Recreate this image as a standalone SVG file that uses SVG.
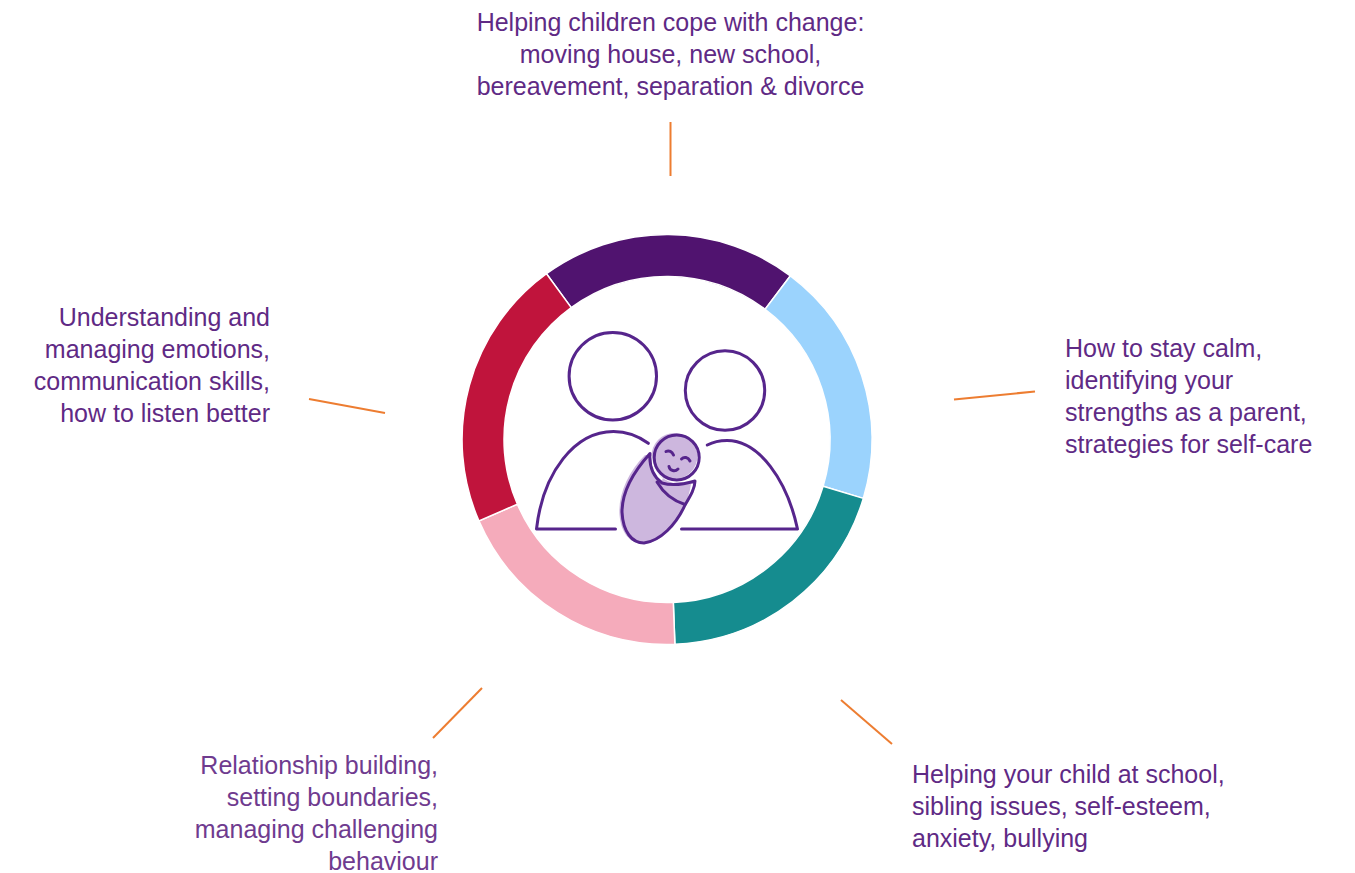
<svg xmlns="http://www.w3.org/2000/svg" width="1355" height="873" viewBox="0 0 1355 873">
<style>
.t{font-family:"Liberation Sans",Arial,sans-serif;font-size:25px;fill:#5F2A85}
.e{text-anchor:end}.m{text-anchor:middle}
.c{fill:none;stroke:#ED7D31;stroke-width:2}
.o{fill:none;stroke:#56258C;stroke-width:3;stroke-linecap:round;stroke-linejoin:round}
.f{fill:#CDB7DE}
</style>
<rect width="1355" height="873" fill="#fff"/>
<g id="ring" stroke="#fff" stroke-width="1.5">
<path id="seg-top" fill="#50136F" d="M546.5 273.7A205 205 0 0 1 790.4 275.8L765.1 309.3A163 163 0 0 0 571.2 307.6Z"/>
<path id="seg-right" fill="#9BD3FD" d="M790.4 275.8A205 205 0 0 1 863.3 498.4L823.1 486.3A163 163 0 0 0 765.1 309.3Z"/>
<path id="seg-bottom-right" fill="#158C8F" d="M863.3 498.4A205 205 0 0 1 674.9 644.3L673.3 602.4A163 163 0 0 0 823.1 486.3Z"/>
<path id="seg-bottom-left" fill="#F5ABBB" d="M674.9 644.3A205 205 0 0 1 478.9 520.9L517.4 504.2A163 163 0 0 0 673.3 602.4Z"/>
<path id="seg-left" fill="#C0143C" d="M478.9 520.9A205 205 0 0 1 546.5 273.7L571.2 307.6A163 163 0 0 0 517.4 504.2Z"/>
</g>
<g id="family">
<circle class="o" cx="612.8" cy="376.2" r="43.7"/>
<circle class="o" cx="725" cy="390.5" r="39.7"/>
<path class="o" d="M648.3 443.3C637 435 625 431.5 613.5 431.5C575 431.5 543 472 536.5 529H615.5"/>
<path class="o" d="M707.3 445C714 441.5 720 440.5 727 440.5C759 440.5 787 480 797.5 529H681.5"/>
<g id="baby">
<path class="f" d="M645 455C628 472 618 495 619.500 515C621 533 630 543 642 544C660 544 678 525 686 506C692 494 694 486 694 481L673 483C662 480 652 470 650 455Z"/>
<circle class="f" cx="674.500" cy="456" r="23"/>
<path d="M650.500 456C651 466 655 474 662 480" fill="none" stroke="#fff" stroke-width="3"/>
<path d="M692 484C690 500 680 522 665 533" fill="none" stroke="#fff" stroke-width="2"/>
<circle class="o" cx="676.700" cy="457.500" r="22.500" fill="none"/>
<path class="o" d="M650 453.500C635 470 622 490 622 512C623 532 632 543 644 543C660 541 676 525 685 505C691 495 695 488 695 481C685 484 672 486 662 483C654 477 649 467 650 453.500Z"/>
<path class="o" d="M657 482C664 494 674 501 685 504.500"/>
<path class="o" stroke-width="2.500" d="M666 451.500C669 450 672 451.500 673.500 455"/>
<path class="o" stroke-width="2.500" d="M681.500 459C684 456.500 688 457 690 461"/>
<path class="o" stroke-width="2.500" d="M669 466.500C670 471 675 472 678 469"/>
</g>
</g>
<g id="connectors">
<line class="c" x1="670.500" y1="122" x2="670.500" y2="176"/>
<line class="c" x1="954" y1="399.500" x2="1035" y2="391.500"/>
<line class="c" x1="841" y1="700" x2="892" y2="744"/>
<line class="c" x1="482" y1="688" x2="433" y2="738"/>
<line class="c" x1="309" y1="399" x2="385" y2="413"/>
</g>
<g id="label-top">
<text class="t m" x="670.500" y="31">Helping children cope with change:</text>
<text class="t m" x="670.500" y="63">moving house, new school,</text>
<text class="t m" x="670.500" y="95">bereavement, separation &amp; divorce</text>
</g>
<g id="label-right">
<text class="t" x="1065" y="357">How to stay calm,</text>
<text class="t" x="1065" y="389">identifying your</text>
<text class="t" x="1065" y="421">strengths as a parent,</text>
<text class="t" x="1065" y="453">strategies for self-care</text>
</g>
<g id="label-bottom-right">
<text class="t" x="912" y="783">Helping your child at school,</text>
<text class="t" x="912" y="815">sibling issues, self-esteem,</text>
<text class="t" x="912" y="847">anxiety, bullying</text>
</g>
<g id="label-bottom-left" style="fill:#6F3B8F">
<text class="t e" style="fill:#6F3B8F" x="438" y="774">Relationship building,</text>
<text class="t e" style="fill:#6F3B8F" x="438" y="806">setting boundaries,</text>
<text class="t e" style="fill:#6F3B8F" x="438" y="838">managing challenging</text>
<text class="t e" style="fill:#6F3B8F" x="438" y="870">behaviour</text>
</g>
<g id="label-left">
<text class="t e" x="270" y="326">Understanding and</text>
<text class="t e" x="270" y="358">managing emotions,</text>
<text class="t e" x="270" y="390">communication skills,</text>
<text class="t e" x="270" y="422">how to listen better</text>
</g>
</svg>
